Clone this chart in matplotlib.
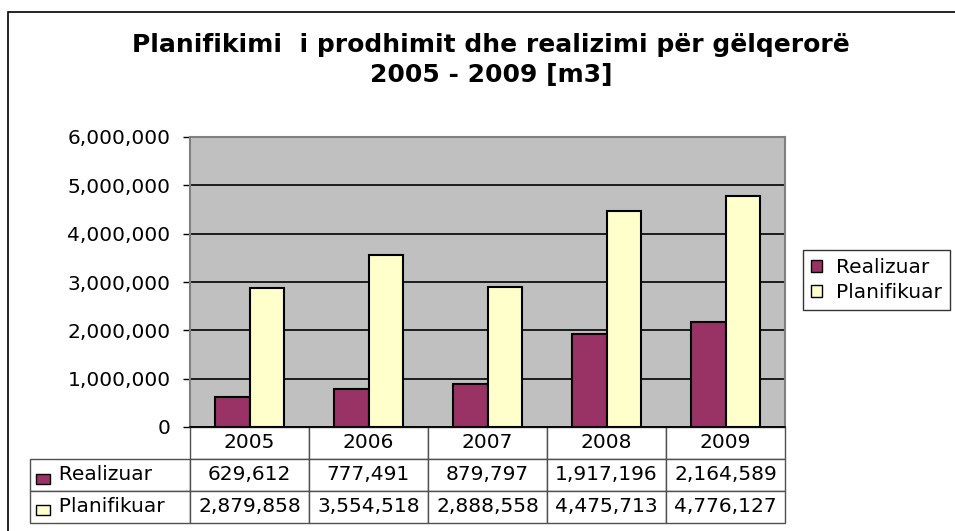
import matplotlib.pyplot as plt
from matplotlib.patches import Rectangle
import numpy as np

years = ['2005', '2006', '2007', '2008', '2009']
realizuar = [629612, 777491, 879797, 1917196, 2164589]
planifikuar = [2879858, 3554518, 2888558, 4475713, 4776127]
series_names = ['Realizuar', 'Planifikuar']
series_colors = ['#993366', '#FFFFCC']

plt.rcParams['font.family'] = ['DejaVu Sans']

W, H = 955, 531
fig = plt.figure(figsize=(W / 100, H / 100), dpi=100)

# outer chart frame (runs off the right and bottom edges)
fig.patches.append(Rectangle((8 / W, -0.01), 1.0, 1 - 12 / H + 0.01,
                             transform=fig.transFigure, fill=False,
                             edgecolor='black', linewidth=1.2))

# plot area in pixels
x0, x1, y0, y1 = 190, 785, 137, 427
ax = fig.add_axes([x0 / W, 1 - y1 / H, (x1 - x0) / W, (y1 - y0) / H])
ax.set_facecolor('#C0C0C0')

x = np.arange(len(years))
bw = 0.286
for vals, name, col, off in zip([realizuar, planifikuar], series_names, series_colors, [-bw / 2, bw / 2]):
    ax.bar(x + off, vals, bw, color=col, edgecolor='black', linewidth=1.5, label=name, zorder=3)

ax.set_xlim(-0.5, len(years) - 0.5)
ax.set_ylim(0, 6000000)
ax.set_yticks(np.arange(0, 6000001, 1000000))
ax.yaxis.set_major_formatter(plt.FuncFormatter(lambda v, p: f'{int(v):,}'))
ax.tick_params(axis='y', labelsize=14.5, length=5, width=1, direction='out', pad=9)
ax.set_xticks([])
ax.grid(axis='y', color='black', linewidth=1.2, zorder=1)
for s in ['left', 'right', 'top']:
    ax.spines[s].set_color('#808080')
    ax.spines[s].set_linewidth(1.5)
ax.spines['bottom'].set_color('black')
ax.spines['bottom'].set_linewidth(1.2)

# data table below the plot
label_w = 160
pw = x1 - x0
ph = y1 - y0
cell_text = [['  ' + name] + [f'{v:,}' for v in vals]
             for name, vals in zip(series_names, [realizuar, planifikuar])]
tbl = ax.table(cellText=cell_text, colLabels=[''] + years,
               colWidths=[label_w / pw] + [1 / len(years)] * len(years),
               cellLoc='center',
               bbox=[-label_w / pw, -96 / ph, 1 + label_w / pw, 96 / ph])
tbl.auto_set_font_size(False)
tbl.set_fontsize(14.5)
for (r, c), cell in tbl.get_celld().items():
    cell.set_edgecolor('#505050')
    cell.set_linewidth(1.0)
    cell.PAD = 0.01
    if r == 0 and c == 0:
        cell.visible_edges = ''
    if c == 0 and r > 0:
        cell.get_text().set_horizontalalignment('left')
        cell._loc = 'left'
        cell.PAD = 0.1

# legend keys inside row label cells
for i, col in enumerate(series_colors):
    yc = 1 - (479 + i * 31) / H
    fig.patches.append(Rectangle((36 / W, yc - 5 / H), 14 / W, 10 / H,
                                 transform=fig.transFigure, facecolor=col,
                                 edgecolor='black', linewidth=1))

fig.text(491 / W, 1 - 60 / H,
         'Planifikimi  i prodhimit dhe realizimi për gëlqerorë\n2005 - 2009 [m3]',
         ha='center', va='center', fontsize=18, fontweight='bold', linespacing=1.3)

leg = fig.legend(loc='upper left', bbox_to_anchor=(803 / W, 1 - 250 / H),
                 fontsize=14.5, frameon=True, fancybox=False, edgecolor='black',
                 handlelength=0.55, handleheight=0.55, handletextpad=0.7,
                 borderpad=0.4, borderaxespad=0, labelspacing=0.3)
leg.get_frame().set_linewidth(1)
for h in leg.legend_handles:
    h.set_linewidth(1)

fig.savefig('out.png', dpi=100)
